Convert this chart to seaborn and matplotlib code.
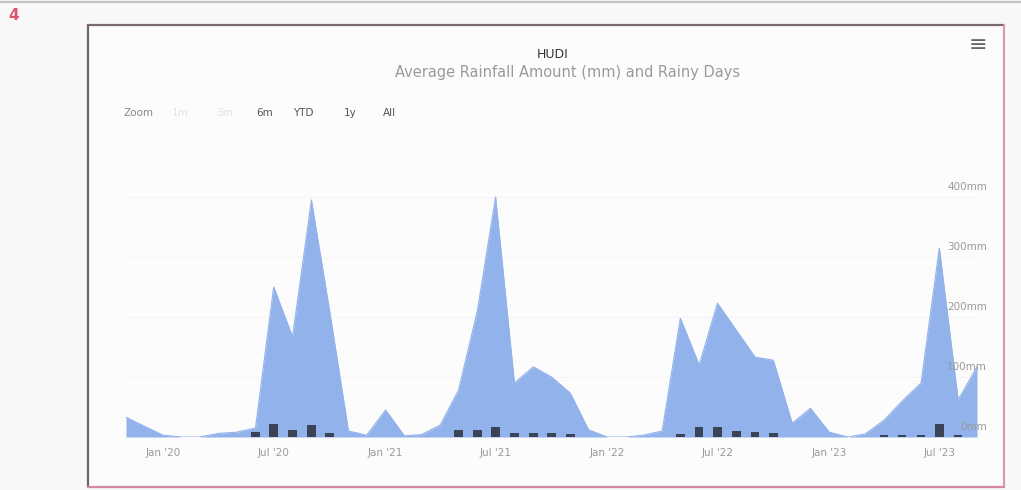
"""Monthly rainfall area chart with rainy-day columns (Highstock-style screenshot)."""
import matplotlib.pyplot as plt
from matplotlib.lines import Line2D
from matplotlib.patches import Rectangle
import pandas as pd
import seaborn as sns

# ---- data ----
months = pd.date_range("2019-11-01", "2023-09-01", freq="MS")
rainfall_mm = [
    33, 18,                                                  # 2019 Nov-Dec
    3, 0, 0, 6, 8, 15, 250, 167, 395, 210, 10, 3,            # 2020
    45, 2, 4, 20, 78, 210, 400, 90, 117, 100, 73, 12,        # 2021
    0, 0, 3, 10, 198, 120, 223, 178, 133, 128, 23, 48,       # 2022
    8, 0, 5, 28, 60, 90, 315, 62, 117,                       # 2023 Jan-Sep
]
rainy_days = [
    0, 0,
    0, 0, 0, 0, 0, 8, 22, 12, 20, 7, 0, 0,
    0, 0, 0, 0, 11, 11, 17, 7, 7, 7, 5, 0,
    0, 0, 0, 0, 5, 16, 17, 10, 9, 6, 0, 0,
    0, 0, 0, 3, 3, 4, 21, 4, 0,
]
x_tick_dates = ["2020-01-01", "2020-07-01", "2021-01-01", "2021-07-01",
                "2022-01-01", "2022-07-01", "2023-01-01", "2023-07-01"]
x_tick_labels = ["Jan '20", "Jul '20", "Jan '21", "Jul '21",
                 "Jan '22", "Jul '22", "Jan '23", "Jul '23"]
y_ticks = [0, 100, 200, 300, 400]
range_buttons = ["1m", "3m", "6m", "YTD", "1y", "All"]
button_x = [180, 225, 265, 303, 350, 389]
button_enabled = [False, False, True, True, True, True]

AREA = "#91b2ea"
BAR = "#3b4457"
W, H = 1021, 490

sns.set_theme(style="white")
plt.rcParams["font.family"] = ["DejaVu Sans"]


def px(x, y):
    return x / W, 1 - y / H


df = pd.DataFrame({"month": months, "rain": rainfall_mm, "days": rainy_days})

fig = plt.figure(figsize=(W / 100, H / 100), dpi=100, facecolor="#f9f8f9")

# chart card background + photographed frame
fig.add_artist(Rectangle(px(88, 487), 916 / W, 462 / H, transform=fig.transFigure,
                         facecolor="#fdfcfd", edgecolor="none", zorder=-2))
for (x0, y0), (x1, y1), col in [((88, 25), (88, 487), "#6f6468"),
                                 ((88, 25), (1004, 25), "#7a6a70"),
                                 ((1004, 25), (1004, 487), "#d99aa8"),
                                 ((88, 487), (1004, 487), "#d48a9c"),
                                 ((0, 2), (1021, 2), "#c4c2c4")]:
    fig.add_artist(Line2D([px(x0, y0)[0], px(x1, y1)[0]],
                          [px(x0, y0)[1], px(x1, y1)[1]],
                          transform=fig.transFigure, color=col, lw=1.6))

ax = fig.add_axes([126 / W, 53 / H, 851 / W, 252 / H])
ax.set_facecolor("none")

ax.fill_between(df["month"], df["rain"], color=AREA, lw=0, zorder=1)
sns.lineplot(data=df, x="month", y="rain", color=AREA, lw=0.8, ax=ax, zorder=2)
ax.bar(df["month"], df["days"], width=14, color=BAR, lw=0, zorder=3)

ax.set_xlim(months[0], months[-1])
ax.set_ylim(0, 420)
ax.set_xlabel("")
ax.set_ylabel("")
for s in ax.spines.values():
    s.set_visible(False)

ax.set_xticks(pd.to_datetime(x_tick_dates))
ax.set_xticklabels(x_tick_labels)
ax.tick_params(axis="x", length=0, pad=8, labelsize=7.5, labelcolor="#9a9a9a")

ax.set_yticks(y_ticks)
ax.set_yticklabels([])
ax.tick_params(axis="y", length=0)
ax.grid(axis="y", color="#f5f2f5", lw=0.6)
ax.set_axisbelow(True)
for v in y_ticks:
    ax.annotate(f"{v}mm", xy=(1, v), xycoords=("axes fraction", "data"),
                xytext=(10, 5), textcoords="offset pixels", ha="right",
                va="bottom", fontsize=7.5, color="#9a9a9a", zorder=5)

# titles, range selector, menu icon
fig.text(*px(553, 55), "HUDI", ha="center", va="center", fontsize=9, color="#333333")
fig.text(*px(568, 73), "Average Rainfall Amount (mm) and Rainy Days",
         ha="center", va="center", fontsize=10.5, color="#9a9a9a")
fig.text(*px(123, 113), "Zoom", ha="left", va="center", fontsize=7.5, color="#888888")
for label, bx, on in zip(range_buttons, button_x, button_enabled):
    fig.text(*px(bx, 113), label, ha="center", va="center", fontsize=7.5,
             color="#555555" if on else "#e4e2e6")
fig.text(*px(978, 45), "\u2261", ha="center", va="center", fontsize=16, color="#666666")
fig.text(*px(14, 16), "4", ha="center", va="center", fontsize=11,
         fontweight="bold", color="#d9546e")

fig.savefig("out.png", dpi=100, facecolor=fig.get_facecolor())
